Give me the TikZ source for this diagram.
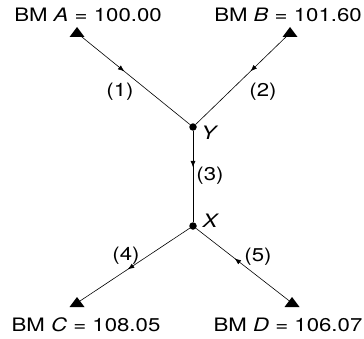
\documentclass[tikz,border=0pt]{standalone}
\usepackage{fontspec}
\setmainfont[FakeStretch=1.2]{TeX Gyre Heros}
\usetikzlibrary{arrows.meta,decorations.markings}
\newcommand{\bmark}[3]{% {name}{x}{y}
  \coordinate (#1) at (#2,#3);
  \fill (#1) ++(-7.5,-4) -- ++(15,0) -- ++(-7.5,10) -- cycle;
}
\tikzset{
  leg/.style={line width=0.6pt,postaction={decorate},decoration={markings,
    mark=at position #1 with {\arrow{Latex[length=6.5pt,width=5pt]}}}},
  lbl/.style={font=\fontsize{18.5}{22}\selectfont,inner sep=0pt},
  junction/.style={circle,fill,inner sep=0pt,minimum size=7.5pt}
}
\begin{document}
\begin{tikzpicture}[x=1pt,y=1pt]
  \useasboundingbox (0,0) rectangle (364,338);

  % Benchmarks
  \bmark{A}{77}{305}
  \bmark{B}{290}{305}
  \bmark{C}{77}{35}
  \bmark{D}{292}{35}

  % Junction points
  \node[junction] (Y) at (193,211) {};
  \node[junction] (X) at (193,112) {};

  % Lines of levels
  \draw[leg=0.42] (A) -- (Y);
  \draw[leg=0.42] (B) -- (Y);
  \draw[leg=0.4] (Y) -- (X);
  \draw[leg=0.55] (X) -- (C);
  \draw[leg=0.6] (D) -- (X);

  % Benchmark elevations
  \node[lbl] (tA) at (88,323) {BM \textit{A} = 100.00};
  \node[lbl] (tB) at (288,323) {BM \textit{B} = 101.60};
  \node[lbl] (tC) at (86,13) {BM \textit{C} = 108.05};
  \node[lbl] (tD) at (288,13) {BM \textit{D} = 106.07};

  % Line numbers and junction names
  \node[lbl] (n1) at (120,246) {(1)};
  \node[lbl] (n2) at (263,246) {(2)};
  \node[lbl] (n3) at (210,162) {(3)};
  \node[lbl] (n4) at (126,82) {(4)};
  \node[lbl] (n5) at (258,81) {(5)};
  \node[lbl] (nY) at (210,205) {\textit{Y}};
  \node[lbl] (nX) at (211,117) {\textit{X}};
\end{tikzpicture}
\end{document}
